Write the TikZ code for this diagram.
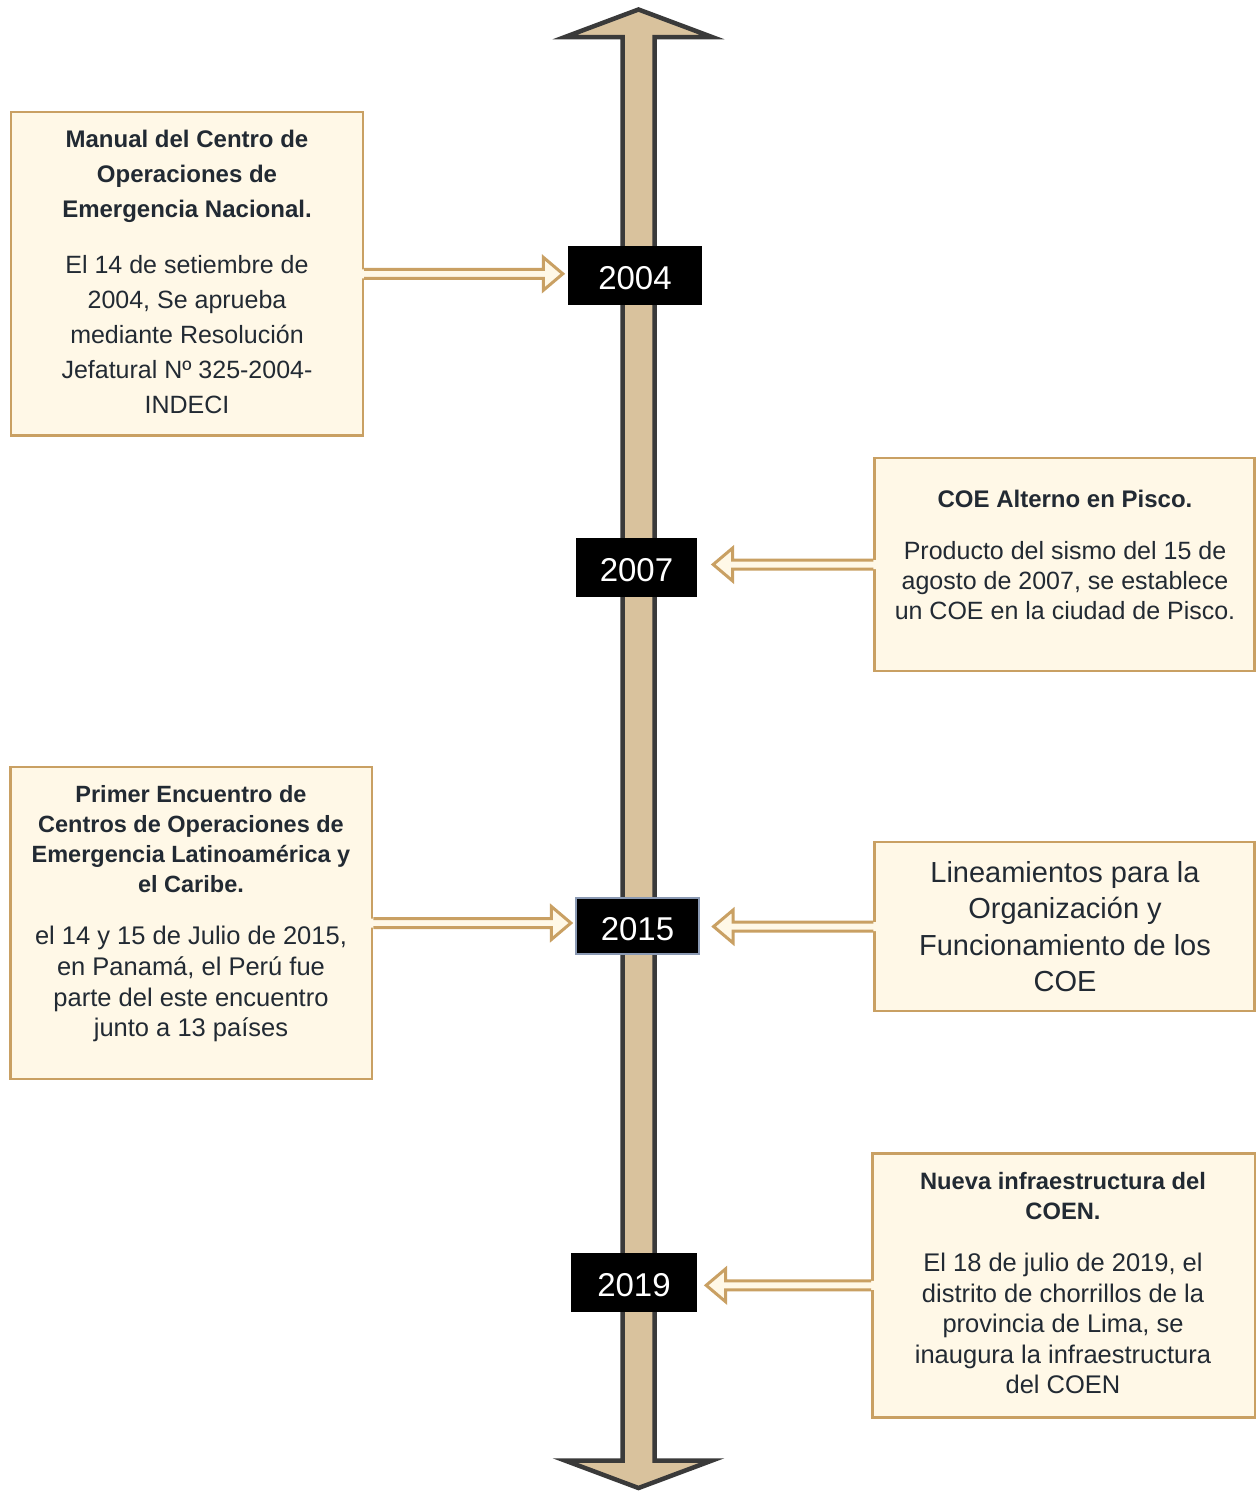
\documentclass[tikz,border=0pt]{standalone}
\usepackage{fontspec}
\setmainfont{Liberation Sans}
\usetikzlibrary{calc}
\definecolor{shaftfill}{HTML}{D9C29D}
\definecolor{shaftline}{HTML}{3A3A3A}
\definecolor{boxfill}{HTML}{FFF8E7}
\definecolor{boxline}{HTML}{C9A063}
\definecolor{txt}{HTML}{222A33}
\definecolor{steel}{HTML}{8A99B3}
% block arrow from a box edge (#1) to a year box anchor (#2); #3 = direction (+1 right, -1 left); #4 = gap
\newcommand\blkarrow[4]{%
  \coordinate (ba-s) at (#1);
  \coordinate (ba-t) at ($(#1 -| #2)+({-(#4)*(#3)},0)$);
  \coordinate (ba-h) at ($(ba-t)+({-19.5*(#3)},0)$);
  \fill[boxfill] ($(ba-s)+({-3*(#3)},-4.5)$) -- ($(ba-h)+(0,-4.5)$) -- ($(ba-h)+(0,-16.5)$) -- (ba-t)
     -- ($(ba-h)+(0,16.5)$) -- ($(ba-h)+(0,4.5)$) -- ($(ba-s)+({-3*(#3)},4.5)$) -- cycle;
  \draw[arrowline] ($(ba-s)+(0,-4.5)$) -- ($(ba-h)+(0,-4.5)$) -- ($(ba-h)+(0,-16.5)$) -- (ba-t)
     -- ($(ba-h)+(0,16.5)$) -- ($(ba-h)+(0,4.5)$) -- ($(ba-s)+(0,4.5)$);
}
\begin{document}
\begin{tikzpicture}[x=1pt,y=-1pt,
  infobox/.style={draw=boxline, fill=boxfill, line width=2.5pt, inner sep=0pt},
  yearbox/.style={fill=black, text=white, font=\fontsize{33}{36}\selectfont, inner sep=0pt,
    text height=28.5pt, text depth=0pt},
  boxtext/.style={text=txt, align=center, inner sep=0pt},
  arrowline/.style={draw=boxline, line width=3pt, line join=miter},
  timeline/.style={fill=shaftfill, draw=shaftline, line width=4.5pt, line join=miter},
]
\useasboundingbox (0,0) rectangle (1256,1492);
\fill[white] (0,0) rectangle (1256,1492);

% timeline double arrow
\draw[timeline] (638.5,9.5) -- (565,37) -- (622.5,37) -- (622.5,1460.5) -- (565,1460.5)
  -- (638.5,1488) -- (712,1460.5) -- (654.5,1460.5) -- (654.5,37) -- (712,37) -- cycle;

% year boxes
\node[yearbox, minimum width=134pt, minimum height=59pt] (y04) at (635,275.5) {2004};
\node[yearbox, minimum width=121pt, minimum height=59pt] (y07) at (636.5,567.5) {2007};
\node[yearbox, draw=steel, line width=1.2pt, minimum width=123pt, minimum height=56pt] (y15) at (637.5,926) {2015};
\node[yearbox, minimum width=126pt, minimum height=59pt] (y19) at (634,1282.5) {2019};

% info boxes
\node[infobox, minimum width=352pt, minimum height=323.5pt] (b1) at (186.9,273.8) {};
\node[infobox, minimum width=380pt, minimum height=213pt] (b2) at (1064.5,564.5) {};
\node[infobox, minimum width=361.5pt, minimum height=312pt] (b3) at (191.3,923) {};
\node[infobox, minimum width=380pt, minimum height=169pt] (b4) at (1064.5,926.5) {};
\node[infobox, minimum width=382.5pt, minimum height=264pt] (b5) at (1063.6,1285.3) {};

% connectors
\blkarrow{b1.east}{y04.west}{1}{5}
\blkarrow{b2.west}{y07.east}{-1}{16}
\blkarrow{b3.east}{y15.west}{1}{4.5}
\blkarrow{b4.west}{y15.east}{-1}{14}
\blkarrow{b5.west}{y19.east}{-1}{9}

% texts
\node[boxtext, anchor=north, font=\fontsize{24}{35}\selectfont\bfseries] (t1a) at (187,130)
  {Manual del Centro de\\Operaciones de\\Emergencia Nacional.};
\node[boxtext, anchor=north, font=\fontsize{25}{35}\selectfont] (t1b) at (187,255)
  {El 14 de setiembre de\\2004, Se aprueba\\mediante Resolución\\Jefatural Nº 325-2004-\\INDECI};
\node[boxtext, anchor=north, font=\fontsize{24}{30}\selectfont\bfseries] (t2a) at (1065,490)
  {COE Alterno en Pisco.};
\node[boxtext, anchor=north, font=\fontsize{25}{30}\selectfont] (t2b) at (1065,541)
  {Producto del sismo del 15 de\\agosto de 2007, se establece\\un COE en la ciudad de Pisco.};
\node[boxtext, anchor=north, font=\fontsize{23.5}{30}\selectfont\bfseries] (t3a) at (191,785)
  {Primer Encuentro de\\Centros de Operaciones de\\Emergencia Latinoamérica y\\el Caribe.};
\node[boxtext, anchor=north, font=\fontsize{25.5}{30.7}\selectfont] (t3b) at (191,926)
  {el 14 y 15 de Julio de 2015,\\en Panamá, el Perú fue\\parte del este encuentro\\junto a 13 países};
\node[boxtext, font=\fontsize{29}{36.5}\selectfont] (t4) at (1065,926.5)
  {Lineamientos para la\\Organización y\\Funcionamiento de los\\COE};
\node[boxtext, anchor=north, font=\fontsize{23.7}{30}\selectfont\bfseries] (t5a) at (1063,1172)
  {Nueva infraestructura del\\COEN.};
\node[boxtext, anchor=north, font=\fontsize{25.5}{30.5}\selectfont] (t5b) at (1063,1253)
  {El 18 de julio de 2019, el\\distrito de chorrillos de la\\provincia de Lima, se\\inaugura la infraestructura\\del COEN};
\end{tikzpicture}
\end{document}
